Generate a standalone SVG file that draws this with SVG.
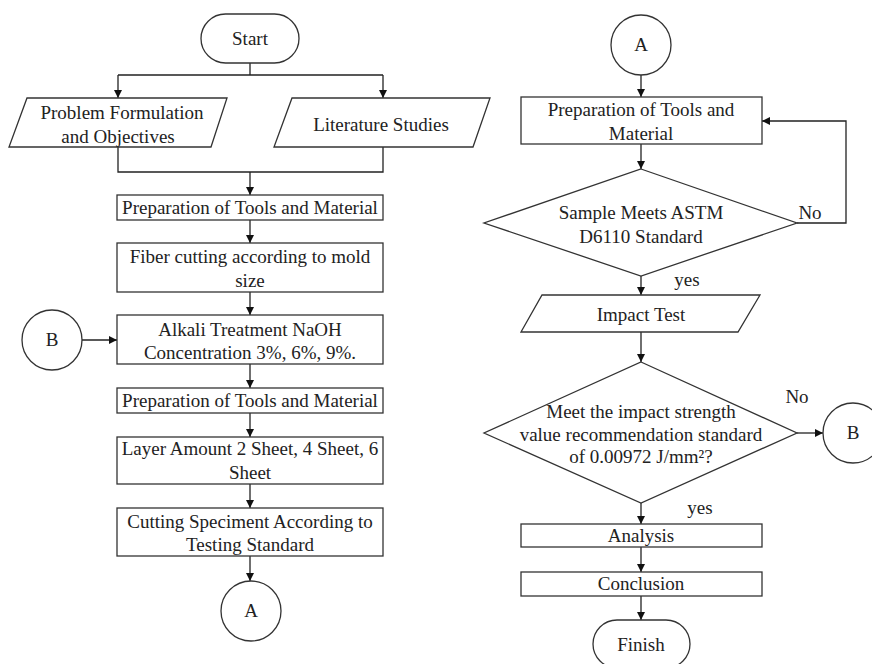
<svg xmlns="http://www.w3.org/2000/svg" width="872" height="664" viewBox="0 0 872 664">
<defs>
<marker id="ah" viewBox="0 0 10 10" refX="10" refY="5" markerWidth="8" markerHeight="8" markerUnits="userSpaceOnUse" orient="auto">
<path d="M0,0 L10,5 L0,10 z" fill="#111"/>
</marker>
<style>
.s{fill:#fff;stroke:#333;stroke-width:1.3}
.t{font-family:"Liberation Serif","Times New Roman",serif;font-size:19px;fill:#222;text-anchor:middle}
.c{fill:none;stroke:#222;stroke-width:1.3}
.a{marker-end:url(#ah)}
</style>
</defs>
<rect width="872" height="664" fill="#fff"/>
<g id="connectors">
<path class="c" d="M250,63 V75 M118,75 H383"/>
<path class="c a" d="M118,75 V98"/>
<path class="c a" d="M383,75 V98"/>
<path class="c" d="M118,147 V172 H383 V147"/>
<path class="c a" d="M250,172 V195"/>
<path class="c a" d="M250,220 V243"/>
<path class="c a" d="M250,292 V315"/>
<path class="c a" d="M82,340 H117"/>
<path class="c a" d="M250,364 V388"/>
<path class="c a" d="M250,413 V437"/>
<path class="c a" d="M250,484 V508"/>
<path class="c a" d="M250,556 V581"/>
<path class="c a" d="M641,75 V97"/>
<path class="c a" d="M641,144 V169"/>
<path class="c a" d="M797,223 H846 V121 H762"/>
<path class="c a" d="M641,276 V295"/>
<path class="c a" d="M641,332 V362"/>
<path class="c a" d="M797,433 H823"/>
<path class="c a" d="M641,503 V524"/>
<path class="c a" d="M641,547 V572"/>
<path class="c a" d="M641,596 V620"/>
<text class="t" x="810" y="219">No</text>
<text class="t" x="687" y="286">yes</text>
<text class="t" x="797" y="403">No</text>
<text class="t" x="700" y="514">yes</text>
</g>
<g id="start">
<rect class="s" x="201" y="14" width="98" height="49" rx="24.5"/>
<text class="t" x="250" y="45">Start</text>
</g>
<g id="problem">
<polygon class="s" points="27,98 227,98 211,147 9,147"/>
<text class="t" x="122" y="119">Problem Formulation</text>
<text class="t" x="118" y="143">and Objectives</text>
</g>
<g id="literature">
<polygon class="s" points="292,98 490,98 473,147 274,147"/>
<text class="t" x="381" y="131">Literature Studies</text>
</g>
<g id="prep1">
<rect class="s" x="117" y="195" width="266" height="25"/>
<text class="t" x="250" y="214">Preparation of Tools and Material</text>
</g>
<g id="fiber">
<rect class="s" x="117" y="243" width="266" height="49"/>
<text class="t" x="250" y="263">Fiber cutting according to mold</text>
<text class="t" x="250" y="287">size</text>
</g>
<g id="alkali">
<rect class="s" x="117" y="315" width="266" height="49"/>
<text class="t" x="250" y="336">Alkali Treatment NaOH</text>
<text class="t" x="250" y="359">Concentration 3%, 6%, 9%.</text>
</g>
<g id="connB1">
<circle class="s" cx="52" cy="340" r="30"/>
<text class="t" x="52" y="346">B</text>
</g>
<g id="prep2">
<rect class="s" x="117" y="388" width="266" height="25"/>
<text class="t" x="250" y="407">Preparation of Tools and Material</text>
</g>
<g id="layer">
<rect class="s" x="117" y="437" width="266" height="47"/>
<text class="t" x="250" y="455">Layer Amount 2 Sheet, 4 Sheet, 6</text>
<text class="t" x="250" y="479">Sheet</text>
</g>
<g id="cutting">
<rect class="s" x="117" y="508" width="266" height="48"/>
<text class="t" x="250" y="528">Cutting Speciment According to</text>
<text class="t" x="250" y="551">Testing Standard</text>
</g>
<g id="connA1">
<circle class="s" cx="251" cy="611" r="30"/>
<text class="t" x="251" y="617">A</text>
</g>
<g id="connA2">
<circle class="s" cx="641" cy="45" r="30"/>
<text class="t" x="641" y="51">A</text>
</g>
<g id="prep3">
<rect class="s" x="521" y="97" width="241" height="47"/>
<text class="t" x="641" y="116">Preparation of Tools and</text>
<text class="t" x="641" y="140">Material</text>
</g>
<g id="sample">
<polygon class="s" points="641,169 797,223 641,276 484,223"/>
<text class="t" x="641" y="219">Sample Meets ASTM</text>
<text class="t" x="641" y="243">D6110 Standard</text>
</g>
<g id="impact">
<polygon class="s" points="542,295 760,295 738,332 521,332"/>
<text class="t" x="641" y="321">Impact Test</text>
</g>
<g id="meet">
<polygon class="s" points="641,362 797,433 641,503 484,433"/>
<text class="t" x="641" y="418">Meet the impact strength</text>
<text class="t" x="641" y="441">value recommendation standard</text>
<text class="t" x="641" y="463">of 0.00972 J/mm²?</text>
</g>
<g id="connB2">
<circle class="s" cx="853" cy="433" r="30"/>
<text class="t" x="853" y="439">B</text>
</g>
<g id="analysis">
<rect class="s" x="521" y="524" width="241" height="23"/>
<text class="t" x="641" y="542">Analysis</text>
</g>
<g id="conclusion">
<rect class="s" x="521" y="572" width="241" height="24"/>
<text class="t" x="641" y="590">Conclusion</text>
</g>
<g id="finish">
<rect class="s" x="593" y="620" width="97" height="48" rx="24"/>
<text class="t" x="641" y="651">Finish</text>
</g>
</svg>
